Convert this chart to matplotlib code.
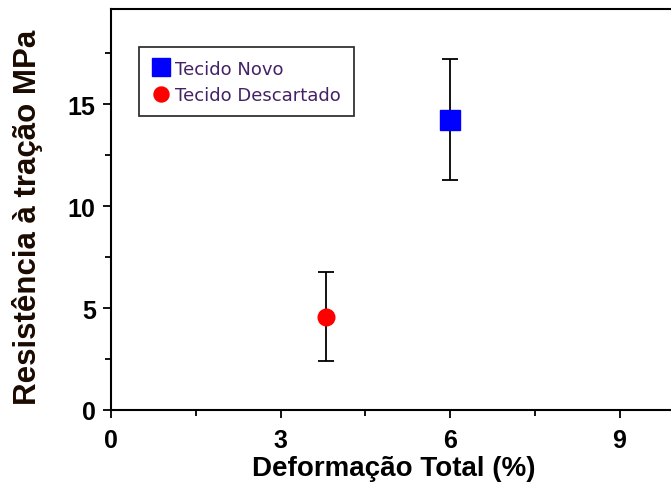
import matplotlib
matplotlib.use("Agg")
import matplotlib.pyplot as plt
from matplotlib.ticker import MultipleLocator

# Data
labels = ["Tecido Novo", "Tecido Descartado"]
deformacao = [6.0, 3.8]
resistencia = [14.2, 4.55]
err_low = [2.9, 2.15]
err_high = [3.0, 2.2]
colors = ["#0000ff", "#ff0000"]
markers = ["s", "o"]
msizes = [14, 12]

xticks = [0, 3, 6, 9]
yticks = [0, 5, 10, 15]

fig = plt.figure(figsize=(6.71, 4.89), dpi=100)
ax = fig.add_axes([111/671, 78/489, 565/671, 401/489])

for x, y, lo, hi, c, m, ms, lab in zip(deformacao, resistencia, err_low, err_high,
                                         colors, markers, msizes, labels):
    ax.errorbar([x], [y], yerr=[[lo], [hi]], fmt='none', ecolor='black',
                elinewidth=1.3, capsize=6, capthick=1.3, zorder=2)
    ax.plot([x], [y], linestyle='none', marker=m, markersize=ms, color=c,
            markeredgecolor=c, label=lab, zorder=3)

ax.set_xlim(0, 10)
ax.set_ylim(0, 19.66)
ax.set_xticks(xticks)
ax.set_yticks(yticks)
ax.xaxis.set_minor_locator(MultipleLocator(1.5))
ax.yaxis.set_minor_locator(MultipleLocator(2.5))

tickfont = dict(family=['Liberation Sans', 'DejaVu Sans'], weight='bold', size=18)
ax.set_xticklabels([str(t) for t in xticks], **tickfont)
ax.set_yticklabels([str(t) for t in yticks], **tickfont)

ax.tick_params(axis='x', which='major', direction='out', length=6, width=1.3, pad=7)
ax.tick_params(axis='y', which='major', direction='out', length=6, width=1.3, pad=5)
ax.tick_params(axis='both', which='minor', direction='out', length=4, width=1.3)
ax.tick_params(axis='y', which='major', right=True)
ax.tick_params(axis='y', which='minor', right=False)
for s in ax.spines.values():
    s.set_linewidth(1.5)

ax.set_xlabel("Deformação Total (%)", family=['Liberation Sans', 'DejaVu Sans'],
              weight='bold', size=20, labelpad=2)
ax.set_ylabel("Resistência à tração MPa", family=['Liberation Sans', 'DejaVu Sans'],
              weight='bold', size=22.5, color='#1a0a00')
ax.yaxis.set_label_coords(-0.121, 0.482)

leg = ax.legend(loc='upper left', bbox_to_anchor=(0.05, 0.905), frameon=True,
                fancybox=False, edgecolor='black', handlelength=1.0,
                handletextpad=0.3, borderpad=0.7, labelspacing=0.45,
                borderaxespad=0, markerscale=0.9,
                prop=dict(family='DejaVu Sans', size=13))
leg.get_frame().set_linewidth(1.3)
for t in leg.get_texts():
    t.set_color('#442266')

fig.savefig("out.png", dpi=100)
